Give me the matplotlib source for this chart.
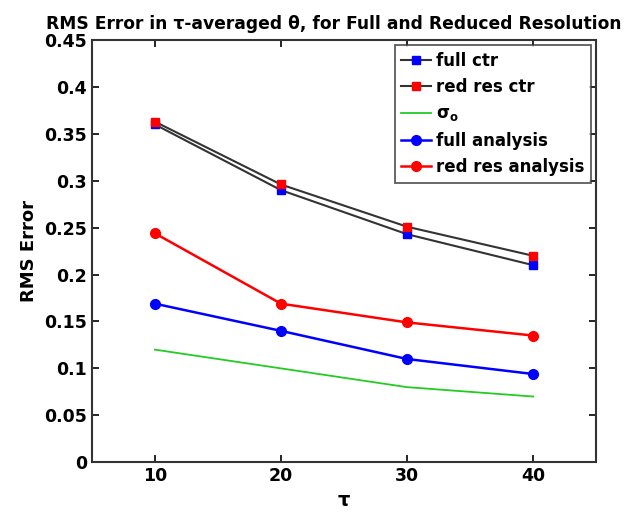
import numpy as np
import matplotlib.pyplot as plt

tau = [10, 20, 30, 40]
full_ctr = [0.360, 0.290, 0.243, 0.210]
red_ctr = [0.363, 0.296, 0.251, 0.220]
sigma_o = [0.120, 0.100, 0.080, 0.070]
full_an = [0.169, 0.140, 0.110, 0.094]
red_an = [0.244, 0.169, 0.149, 0.135]

plt.rcParams['font.family'] = 'DejaVu Sans'
plt.rcParams['font.weight'] = 'bold'

fig = plt.figure(figsize=(6.33, 5.13), dpi=100)
ax = fig.add_axes([0.145, 0.099, 0.797, 0.823])

ax.plot(tau, full_ctr, color='#333333', lw=1.5, marker='s', ms=6,
        mfc='blue', mec='blue', label='full ctr')
ax.plot(tau, red_ctr, color='#333333', lw=1.5, marker='s', ms=6,
        mfc='red', mec='red', label='red res ctr')
ax.plot(tau, sigma_o, color='#22cc22', lw=1.3, label=r'$\mathbf{\sigma_o}$')
ax.plot(tau, full_an, color='blue', lw=1.8, marker='o', ms=7, label='full analysis')
ax.plot(tau, red_an, color='red', lw=1.8, marker='o', ms=7, label='red res analysis')

ax.set_xlim(5, 45)
ax.set_ylim(0, 0.45)
ax.set_xticks([10, 20, 30, 40])
ax.set_yticks(np.arange(0, 0.451, 0.05))
ax.set_yticklabels(['0', '0.05', '0.1', '0.15', '0.2', '0.25', '0.3', '0.35', '0.4', '0.45'])
ax.tick_params(direction='in', top=True, right=True, labelsize=12.5, length=5, width=1.2)
for s in ax.spines.values():
    s.set_linewidth(1.5)
    s.set_color('#333333')

ax.set_xlabel('τ', fontsize=14, fontweight='bold')
ax.set_ylabel('RMS Error', fontsize=13, fontweight='bold')
ax.set_title('RMS Error in τ-averaged θ, for Full and Reduced Resolution',
             fontsize=12.3, fontweight='bold', x=0.48, pad=8)

leg = ax.legend(loc='upper right', fontsize=12, frameon=True, fancybox=False,
                edgecolor='#333333', handlelength=1.8, handletextpad=0.3,
                borderaxespad=0.3, labelspacing=0.5)
leg.get_frame().set_linewidth(1.3)

fig.savefig('out.png', dpi=100)
